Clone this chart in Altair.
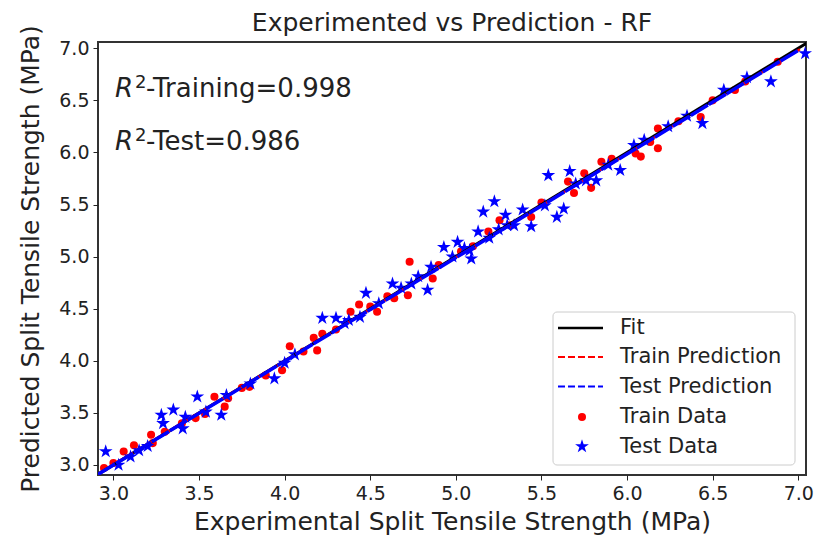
import altair as alt
import pandas as pd

# ---- data ----
train_x = [2.945, 3.00, 3.06, 3.12, 3.22, 3.23, 3.30, 3.40, 3.48, 3.535, 3.59, 3.65, 3.67, 3.75, 3.795,
           3.89, 3.985, 4.03, 4.11, 4.17, 4.19, 4.22, 4.30, 4.385, 4.435, 4.50, 4.54, 4.60, 4.64, 4.72,
           4.73, 4.865, 4.90, 5.03, 5.10, 5.19, 5.255, 5.32, 5.44, 5.50, 5.655, 5.69, 5.75, 5.79, 5.85,
           5.91, 6.05, 6.08, 6.135, 6.18, 6.18, 6.30, 6.43, 6.50, 6.63, 6.69, 6.88]
train_y = [2.97, 3.02, 3.13, 3.19, 3.29, 3.21, 3.32, 3.40, 3.45, 3.49, 3.655, 3.56, 3.64, 3.74, 3.75,
           3.86, 3.91, 4.14, 4.09, 4.22, 4.10, 4.26, 4.30, 4.47, 4.54, 4.52, 4.47, 4.62, 4.60, 4.63,
           4.95, 4.79, 4.92, 5.05, 5.10, 5.24, 5.35, 5.30, 5.38, 5.52, 5.72, 5.61, 5.80, 5.66, 5.91,
           5.94, 5.99, 5.96, 6.10, 6.23, 6.04, 6.30, 6.34, 6.50, 6.60, 6.68, 6.87]

test_x = [2.955, 3.03, 3.10, 3.15, 3.20, 3.28, 3.29, 3.35, 3.405, 3.42, 3.49, 3.54, 3.63, 3.66, 3.80,
          3.94, 4.00, 4.06, 4.22, 4.30, 4.375, 4.44, 4.475, 4.55, 4.63, 4.74, 4.78, 4.835, 4.855, 4.93,
          4.98, 5.01, 5.08, 5.09, 5.13, 5.16, 5.195, 5.225, 5.29, 5.30, 5.34, 5.39, 5.44, 5.52, 5.54,
          5.59, 5.63, 5.665, 5.70, 5.76, 5.82, 5.89, 5.96, 6.04, 6.10, 6.24, 6.35, 6.44, 6.565, 6.70,
          6.84, 7.04, 4.35, 4.68, 5.05, 5.25]
test_y = [3.13, 3.00, 3.08, 3.14, 3.18, 3.48, 3.40, 3.53, 3.35, 3.46, 3.655, 3.51, 3.48, 3.67, 3.78,
          3.83, 3.98, 4.06, 4.41, 4.41, 4.39, 4.42, 4.65, 4.55, 4.74, 4.74, 4.81, 4.68, 4.90, 5.09,
          5.00, 5.14, 5.06, 4.98, 5.24, 5.43, 5.18, 5.53, 5.40, 5.30, 5.30, 5.45, 5.29, 5.49, 5.78,
          5.38, 5.46, 5.82, 5.70, 5.73, 5.73, 5.88, 5.83, 6.07, 6.12, 6.25, 6.35, 6.28, 6.60, 6.72,
          6.68, 6.95, 4.36, 4.70, 5.08, 5.26]

fit_x = [2.90, 7.06]
fit_y = [2.90, 7.06]
train_line_x = [2.91, 7.01]
train_line_y = [2.915, 6.99]
test_line_x = [2.91, 7.00]
test_line_y = [2.91, 6.98]

tick_values = [3.0, 3.5, 4.0, 4.5, 5.0, 5.5, 6.0, 6.5, 7.0]
x_domain = [2.91, 7.045]
y_domain = [2.904, 7.06]

title_text = "Experimented vs Prediction - RF"
legend_labels = ["Fit", "Train Prediction", "Test Prediction", "Train Data", "Test Data"]
r2_labels = ["-Training=0.998", "-Test=0.986"]

FONT = "DejaVu Sans"
W, H = 708, 433
STAR = ("M0,-1L0.2245,-0.309L0.951,-0.309L0.363,0.118L0.588,0.809L0,0.382"
        "L-0.588,0.809L-0.363,0.118L-0.951,-0.309L-0.2245,-0.309Z")
TXT = "#222222"

train_df = pd.DataFrame({"x": train_x, "y": train_y})
test_df = pd.DataFrame({"x": test_x, "y": test_y})
fit_df = pd.DataFrame({"x": fit_x, "y": fit_y})
trl_df = pd.DataFrame({"x": train_line_x, "y": train_line_y})
tel_df = pd.DataFrame({"x": test_line_x, "y": test_line_y})

xs = alt.Scale(domain=x_domain, nice=False, zero=False)
ys = alt.Scale(domain=y_domain, nice=False, zero=False)

x_axis = alt.Axis(values=tick_values, format=".1f", grid=False, tickSize=5, tickColor=TXT,
                  labelFontSize=19, labelColor=TXT, labelFont=FONT, labelPadding=4,
                  titleFontSize=25, titleFont=FONT, titleFontWeight="normal", titleColor=TXT,
                  titlePadding=6, domain=False)
y_axis = alt.Axis(values=tick_values, format=".1f", grid=False, tickSize=5, tickColor=TXT,
                  labelFontSize=19, labelColor=TXT, labelFont=FONT, labelPadding=4,
                  titleFontSize=25, titleFont=FONT, titleFontWeight="normal", titleColor=TXT,
                  titlePadding=15, domain=False)
X_ENC = alt.X("x:Q", scale=xs, axis=x_axis, title="Experimental Split Tensile Strength (MPa)")
Y_ENC = alt.Y("y:Q", scale=ys, axis=y_axis, title="Predicted Split Tensile Strength (MPa)")

train_pts = alt.Chart(train_df).mark_point(shape="circle", filled=True, color="#ff0000",
                                           size=65, opacity=1).encode(x=X_ENC, y=Y_ENC)
test_pts = alt.Chart(test_df).mark_point(shape=STAR, filled=True, color="#0000ff",
                                         size=210, opacity=1).encode(x=X_ENC, y=Y_ENC)

fit_line = alt.Chart(fit_df).mark_line(color="black", strokeWidth=3, clip=True).encode(
    x=X_ENC, y=Y_ENC)
train_line = alt.Chart(trl_df).mark_line(color="#ff0000", strokeWidth=2.5, strokeDash=[8, 3],
                                         clip=True).encode(x=X_ENC, y=Y_ENC)
test_line = alt.Chart(tel_df).mark_line(color="#0000ff", strokeWidth=3.5, strokeDash=[20, 1],
                                        clip=True).encode(x=X_ENC, y=Y_ENC)

layers = [train_pts, test_pts, fit_line, train_line, test_line]

anchor = alt.Chart(pd.DataFrame({"a": [0]}))

# title
layers.append(anchor.mark_text(text=title_text, font=FONT, fontSize=25, align="center",
                               baseline="alphabetic", color=TXT).encode(
    x=alt.value(W / 2), y=alt.value(-11)))

# R^2 annotations
for i, lab in enumerate(r2_labels):
    base_y = 55 + i * 53
    layers.append(anchor.mark_text(text="R", font=FONT, fontSize=26, fontStyle="italic",
                                   align="left", baseline="alphabetic", color=TXT).encode(
        x=alt.value(17), y=alt.value(base_y)))
    layers.append(anchor.mark_text(text="2", font=FONT, fontSize=18,
                                   align="left", baseline="alphabetic", color=TXT).encode(
        x=alt.value(37), y=alt.value(base_y - 9)))
    layers.append(anchor.mark_text(text=lab, font=FONT, fontSize=26,
                                   align="left", baseline="alphabetic", color=TXT).encode(
        x=alt.value(48), y=alt.value(base_y)))

# legend
LX0, LX1, LY0, LY1 = 455, 697, 270, 423
layers.append(anchor.mark_rect(fill="white", fillOpacity=0.85, stroke="#cccccc", strokeWidth=1,
                               cornerRadius=4).encode(
    x=alt.value(LX0), x2=alt.value(LX1), y=alt.value(LY0), y2=alt.value(LY1)))
ey = [286, 315, 344.5, 375, 404.5]
layers.append(anchor.mark_rule(color="black", strokeWidth=2.5).encode(
    x=alt.value(460), x2=alt.value(505), y=alt.value(ey[0])))
layers.append(anchor.mark_rule(color="#ff0000", strokeWidth=2, strokeDash=[7, 3]).encode(
    x=alt.value(460), x2=alt.value(505), y=alt.value(ey[1])))
layers.append(anchor.mark_rule(color="#0000ff", strokeWidth=2, strokeDash=[7, 3]).encode(
    x=alt.value(460), x2=alt.value(505), y=alt.value(ey[2])))
layers.append(anchor.mark_point(shape="circle", filled=True, color="#ff0000", size=65,
                                opacity=1).encode(x=alt.value(484), y=alt.value(ey[3])))
layers.append(anchor.mark_point(shape=STAR, filled=True, color="#0000ff", size=210,
                                opacity=1).encode(x=alt.value(484), y=alt.value(ey[4])))
for lab, yy in zip(legend_labels, ey):
    layers.append(anchor.mark_text(text=lab, font=FONT, fontSize=21, align="left",
                                   baseline="middle", color=TXT).encode(
        x=alt.value(522), y=alt.value(yy)))

chart = alt.layer(*layers).properties(
    width=W, height=H,
    autosize=alt.AutoSizeParams(type="none"),
    padding={"left": 98, "top": 42, "right": 13, "bottom": 72},
    background="white",
).configure_view(stroke="#333333", strokeWidth=2)

chart.save("out.html", embed_options={"renderer": "svg", "actions": False})
